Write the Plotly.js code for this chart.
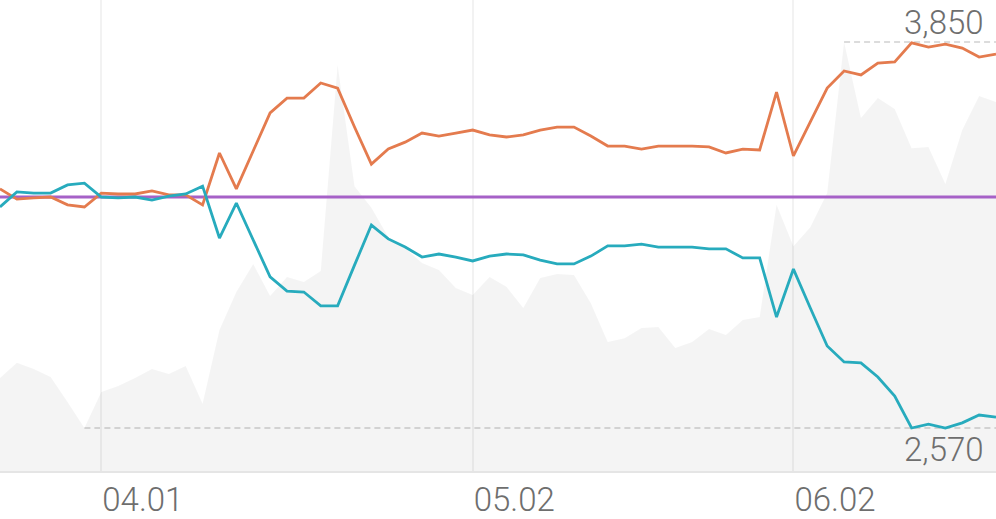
<!DOCTYPE html>
<html>
<head>
<meta charset="utf-8">
<script src="https://cdn.plot.ly/plotly-3.0.1.min.js"></script>
<style>
html,body{margin:0;padding:0;background:#fff;}
#chart{width:996px;height:519px;}
</style>
</head>
<body>
<div id="chart"></div>
<script>
// Trading days (category labels)
const dates = [
  '03.22','03.25','03.26','03.27','03.28','03.29',
  '04.01','04.02','04.03','04.04','04.05','04.08','04.09','04.10','04.11','04.12',
  '04.15','04.16','04.17','04.18','04.19','04.22','04.23','04.24','04.25','04.26',
  '04.29','04.30','05.02',
  '05.03','05.07','05.08','05.09','05.10','05.13','05.14','05.15','05.16','05.17',
  '05.20','05.21','05.22','05.23','05.24','05.27','05.28','05.29',
  '06.02',
  '06.03','06.04','06.05','06.06','06.07','06.10','06.11','06.12','06.13','06.14','06.17','06.18'
];

// Background price area (grey)
const price = [
  2736,2786,2766,2739,2656,2570,2689,2709,2736,2766,
  2749,2776,2650,2895,3021,3114,3008,3071,3054,3091,
  3774,3372,3300,3203,3167,3117,3094,3034,3011,3071,
  3038,2968,3067,3081,3077,2984,2855,2868,2902,2905,
  2835,2855,2898,2878,2928,2938,3310,3173,3236,3349,
  3850,3598,3664,3628,3498,3502,3379,3558,3671,3651
];

// Orange series
const orangeSeries = [
  3363,3329,3333,3336,3310,3303,3349,3346,3346,3356,
  3343,3343,3310,3482,3363,3492,3615,3664,3664,3714,
  3697,3568,3445,3495,3518,3548,3538,3548,3558,3542,
  3535,3542,3558,3568,3568,3538,3505,3505,3495,3505,
  3505,3505,3502,3482,3495,3492,3684,3472,3585,3697,
  3754,3741,3780,3784,3847,3833,3843,3830,3800,3810
];

// Teal series
const tealSeries = [
  3303,3353,3349,3349,3376,3382,3336,3333,3336,3326,
  3339,3346,3372,3200,3316,3193,3071,3024,3021,2975,
  2975,3110,3243,3197,3170,3137,3147,3137,3124,3140,
  3147,3144,3127,3114,3114,3140,3174,3174,3180,3170,
  3170,3170,3164,3164,3134,3134,2938,3097,2968,2842,
  2789,2786,2739,2676,2570,2583,2570,2587,2613,2606
];

// Purple flat baseline
const baseline = 3336;

const tickDates = ['04.01','05.02','06.02'];

const maxVal = Math.max(...price);
const minVal = Math.min(...price);
const maxIdx = price.indexOf(maxVal);
const minIdx = price.indexOf(minVal);
const lastIdx = dates.length - 1;

const traces = [
  {
    x: dates, y: price, type: 'scatter', mode: 'lines',
    fill: 'tozeroy', fillcolor: 'rgba(0,0,0,0.045)',
    line: {width: 0, color: 'rgba(0,0,0,0)'},
    hoverinfo: 'skip'
  },
  {
    x: [dates[0], dates[lastIdx]], y: [baseline, baseline], type: 'scatter', mode: 'lines',
    line: {color: '#a661c7', width: 3}
  },
  {
    x: dates, y: orangeSeries, type: 'scatter', mode: 'lines',
    line: {color: '#e47b4e', width: 2.8}
  },
  {
    x: dates, y: tealSeries, type: 'scatter', mode: 'lines',
    line: {color: '#27abbd', width: 2.8}
  }
];

const labelFont = {family: 'Roboto, sans-serif', size: 33, color: '#6e6e6e', weight: 300};

const layout = {
  width: 996, height: 519,
  margin: {l: 0, r: 0, t: 0, b: 48, pad: 0},
  paper_bgcolor: '#ffffff', plot_bgcolor: '#ffffff',
  showlegend: false,
  xaxis: {
    type: 'category',
    categoryorder: 'array', categoryarray: dates,
    range: [0, lastIdx],
    tickmode: 'array', tickvals: tickDates, ticktext: tickDates,
    ticks: '', ticklabelposition: 'outside right', ticklabelstandoff: -2,
    tickfont: labelFont,
    showgrid: true, gridcolor: '#f2f2f2', gridwidth: 2,
    showline: true, linecolor: '#e5e5e5', linewidth: 2,
    zeroline: false, fixedrange: true
  },
  yaxis: {
    range: [2427.4, 3989.3],
    showticklabels: false, showgrid: false, zeroline: false, showline: false,
    ticks: '', fixedrange: true
  },
  shapes: [
    {type: 'line', xref: 'x', yref: 'y', x0: maxIdx, x1: lastIdx, y0: maxVal, y1: maxVal,
     line: {color: '#dcdcdc', width: 2, dash: '6px,4px'}, layer: 'below'},
    {type: 'line', xref: 'x', yref: 'y', x0: minIdx, x1: lastIdx, y0: minVal, y1: minVal,
     line: {color: '#dcdcdc', width: 2, dash: '6px,4px'}, layer: 'below'}
  ],
  annotations: [
    {xref: 'x', yref: 'y', x: lastIdx, y: maxVal, xanchor: 'right', yanchor: 'bottom',
     text: maxVal.toLocaleString('en-US'), showarrow: false, font: labelFont, xshift: -10, yshift: -2},
    {xref: 'x', yref: 'y', x: lastIdx, y: minVal, xanchor: 'right', yanchor: 'top',
     text: minVal.toLocaleString('en-US'), showarrow: false, font: labelFont, xshift: -10, yshift: 0}
  ]
};

Plotly.newPlot('chart', traces, layout, {staticPlot: true, displayModeBar: false});
</script>
</body>
</html>
